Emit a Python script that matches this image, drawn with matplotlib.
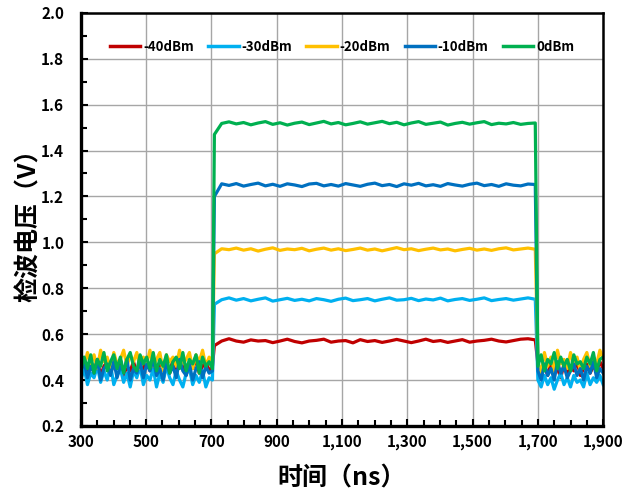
import numpy as np
import matplotlib
matplotlib.use("Agg")
import matplotlib.pyplot as plt
from matplotlib.ticker import MultipleLocator, FuncFormatter

plt.rcParams['font.family'] = ['Noto Sans CJK SC', 'DejaVu Sans']

# --- data (V) ---------------------------------------------------------
labels = ["-40dBm", "-30dBm", "-20dBm", "-10dBm", "0dBm"]
colors = ["#C00000", "#00B0F0", "#FFC000", "#0070C0", "#00B050"]

# baseline before the pulse (300 -> 703 ns)
red_pre = [0.45, 0.48, 0.43, 0.47, 0.44, 0.49, 0.42, 0.46, 0.48, 0.43, 0.47, 0.45, 0.49, 0.42,
           0.46, 0.44, 0.48, 0.43, 0.47, 0.45, 0.49, 0.44, 0.46, 0.42, 0.48, 0.45, 0.47, 0.43,
           0.49, 0.44, 0.46, 0.48, 0.42, 0.47, 0.45, 0.49, 0.43, 0.46, 0.48, 0.44, 0.46]
lblue_pre = [0.40, 0.45, 0.38, 0.43, 0.41, 0.46, 0.39, 0.44, 0.40, 0.47, 0.38, 0.42, 0.45, 0.39,
             0.43, 0.37, 0.44, 0.41, 0.46, 0.38, 0.42, 0.40, 0.45, 0.37, 0.43, 0.39, 0.46, 0.41,
             0.38, 0.44, 0.40, 0.37, 0.43, 0.45, 0.38, 0.42, 0.39, 0.44, 0.37, 0.41, 0.40]
yellow_pre = [0.50, 0.46, 0.52, 0.47, 0.51, 0.45, 0.53, 0.48, 0.50, 0.44, 0.52, 0.47, 0.49, 0.53,
              0.46, 0.51, 0.48, 0.52, 0.45, 0.50, 0.47, 0.53, 0.46, 0.49, 0.52, 0.44, 0.51, 0.48,
              0.50, 0.46, 0.53, 0.47, 0.49, 0.52, 0.45, 0.51, 0.48, 0.53, 0.46, 0.50, 0.48]
blue_pre = [0.44, 0.48, 0.41, 0.46, 0.43, 0.49, 0.40, 0.45, 0.47, 0.42, 0.48, 0.41, 0.46, 0.44,
            0.49, 0.40, 0.45, 0.43, 0.48, 0.41, 0.47, 0.44, 0.49, 0.42, 0.45, 0.40, 0.48, 0.43,
            0.46, 0.41, 0.49, 0.44, 0.42, 0.47, 0.40, 0.45, 0.48, 0.41, 0.46, 0.43, 0.44]
green_pre = [0.44, 0.50, 0.45, 0.51, 0.43, 0.49, 0.46, 0.52, 0.44, 0.48, 0.51, 0.45, 0.50, 0.43,
             0.49, 0.52, 0.46, 0.44, 0.51, 0.47, 0.50, 0.45, 0.52, 0.44, 0.49, 0.46, 0.51, 0.43,
             0.48, 0.50, 0.45, 0.52, 0.44, 0.49, 0.47, 0.51, 0.43, 0.50, 0.46, 0.48, 0.45]

# pulse plateau (709 -> 1692 ns)
red_high = [0.55, 0.570, 0.580, 0.570, 0.565, 0.575, 0.570, 0.572, 0.563, 0.570, 0.578, 0.568,
            0.562, 0.570, 0.573, 0.578, 0.565, 0.570, 0.572, 0.562, 0.576, 0.568, 0.572, 0.564,
            0.570, 0.577, 0.570, 0.563, 0.570, 0.578, 0.568, 0.572, 0.564, 0.570, 0.576, 0.565,
            0.570, 0.573, 0.578, 0.570, 0.566, 0.572, 0.578, 0.580, 0.575]
lblue_high = [0.73, 0.750, 0.758, 0.748, 0.755, 0.745, 0.752, 0.758, 0.744, 0.750, 0.756, 0.747,
              0.752, 0.745, 0.755, 0.750, 0.743, 0.752, 0.757, 0.746, 0.750, 0.755, 0.745, 0.752,
              0.758, 0.748, 0.750, 0.756, 0.746, 0.753, 0.749, 0.757, 0.745, 0.751, 0.755, 0.747,
              0.752, 0.758, 0.746, 0.751, 0.755, 0.748, 0.753, 0.758, 0.752]
yellow_high = [0.95, 0.972, 0.968, 0.975, 0.966, 0.972, 0.962, 0.970, 0.976, 0.965, 0.971, 0.968,
               0.974, 0.963, 0.970, 0.975, 0.966, 0.972, 0.964, 0.969, 0.975, 0.966, 0.971, 0.963,
               0.970, 0.977, 0.968, 0.972, 0.964, 0.970, 0.975, 0.967, 0.971, 0.963, 0.969, 0.974,
               0.966, 0.971, 0.965, 0.972, 0.976, 0.967, 0.971, 0.975, 0.970]
blue_high = [1.20, 1.255, 1.248, 1.256, 1.245, 1.252, 1.258, 1.246, 1.253, 1.244, 1.255, 1.250,
             1.243, 1.254, 1.257, 1.246, 1.252, 1.245, 1.256, 1.250, 1.244, 1.253, 1.258, 1.247,
             1.252, 1.243, 1.255, 1.249, 1.257, 1.246, 1.251, 1.244, 1.256, 1.250, 1.245, 1.253,
             1.258, 1.247, 1.252, 1.244, 1.255, 1.249, 1.246, 1.254, 1.252]
green_high = [1.47, 1.518, 1.525, 1.516, 1.522, 1.512, 1.520, 1.526, 1.514, 1.521, 1.511, 1.519,
              1.524, 1.513, 1.520, 1.527, 1.516, 1.522, 1.512, 1.518, 1.525, 1.515, 1.521, 1.527,
              1.517, 1.523, 1.512, 1.520, 1.526, 1.514, 1.519, 1.524, 1.511, 1.518, 1.523, 1.515,
              1.521, 1.526, 1.513, 1.519, 1.516, 1.522, 1.514, 1.518, 1.520]

# baseline after the pulse (1700 -> 1900 ns)
red_post = [0.47, 0.43, 0.46, 0.42, 0.48, 0.44, 0.45, 0.41, 0.47, 0.43, 0.46, 0.44, 0.48, 0.42,
            0.45, 0.47, 0.43, 0.46, 0.44, 0.48, 0.45]
lblue_post = [0.40, 0.37, 0.42, 0.38, 0.41, 0.36, 0.40, 0.43, 0.38, 0.41, 0.37, 0.42, 0.39, 0.40,
              0.37, 0.43, 0.38, 0.41, 0.39, 0.42, 0.38]
yellow_post = [0.48, 0.43, 0.52, 0.46, 0.50, 0.44, 0.53, 0.47, 0.49, 0.45, 0.52, 0.47, 0.50, 0.44,
               0.49, 0.52, 0.46, 0.50, 0.47, 0.53, 0.49]
blue_post = [0.44, 0.40, 0.47, 0.42, 0.45, 0.40, 0.48, 0.43, 0.46, 0.41, 0.44, 0.47, 0.42, 0.45,
             0.40, 0.46, 0.43, 0.48, 0.41, 0.45, 0.43]
green_post = [0.46, 0.51, 0.44, 0.49, 0.47, 0.52, 0.45, 0.50, 0.46, 0.49, 0.44, 0.51, 0.47, 0.48,
              0.45, 0.50, 0.47, 0.52, 0.44, 0.49, 0.50]

series = [
    (red_pre, red_high, red_post),
    (lblue_pre, lblue_high, lblue_post),
    (yellow_pre, yellow_high, yellow_post),
    (blue_pre, blue_high, blue_post),
    (green_pre, green_high, green_post),
]

x_ticks = [300, 500, 700, 900, 1100, 1300, 1500, 1700, 1900]

# time windows of the three segments (ns)
PRE_WIN, HIGH_WIN, POST_WIN = (300, 703), (709, 1692), (1700, 1900)


def build(pre, high, post):
    t = np.concatenate([np.linspace(*PRE_WIN, len(pre)),
                        np.linspace(*HIGH_WIN, len(high)),
                        np.linspace(*POST_WIN, len(post))])
    return t, np.concatenate([pre, high, post])


fig = plt.figure(figsize=(6.27, 4.93), dpi=100)
ax = fig.add_axes([0.129, 0.136, 0.833, 0.838])

for (pre, high, post), lab, col in zip(series, labels, colors):
    t, v = build(pre, high, post)
    ax.plot(t, v, color=col, lw=2.3, label=lab, solid_joinstyle="round")

ax.set_xlim(300, 1900)
ax.set_ylim(0.2, 2.0)
ax.set_xticks(x_ticks)
ax.xaxis.set_minor_locator(MultipleLocator(50))
ax.yaxis.set_major_locator(MultipleLocator(0.2))
ax.yaxis.set_minor_locator(MultipleLocator(0.1))
ax.xaxis.set_major_formatter(FuncFormatter(lambda x, p: f"{x:,.0f}"))
ax.yaxis.set_major_formatter(FuncFormatter(lambda y, p: f"{y:.1f}"))
ax.grid(True, which="major", color="#A6A6A6", lw=1.0)
ax.set_axisbelow(True)

ax.tick_params(which="both", direction="in", width=1.5)
ax.tick_params(which="major", length=5, labelsize=11)
ax.tick_params(axis="x", which="major", pad=6)
ax.tick_params(axis="y", which="major", pad=12)
ax.tick_params(which="minor", length=4)
for lbl in ax.get_xticklabels() + ax.get_yticklabels():
    lbl.set_fontweight("bold")

for side in ("left", "bottom"):
    ax.spines[side].set_linewidth(2.4)
for side in ("top", "right"):
    ax.spines[side].set_linewidth(1.8)

ax.set_xlabel("时间（ns）", fontsize=18, fontweight="bold", labelpad=12)
ax.set_ylabel("检波电压（V）", fontsize=18, fontweight="bold", labelpad=0)

leg = ax.legend(loc="center", bbox_to_anchor=(0.5, 0.917), ncol=5, frameon=False,
                handlelength=2.3, handletextpad=0.2, columnspacing=1.1,
                prop={"weight": "bold", "size": 9.5})
for h in leg.get_lines():
    h.set_linewidth(2.5)

fig.savefig("out.png", dpi=100, facecolor="white")
